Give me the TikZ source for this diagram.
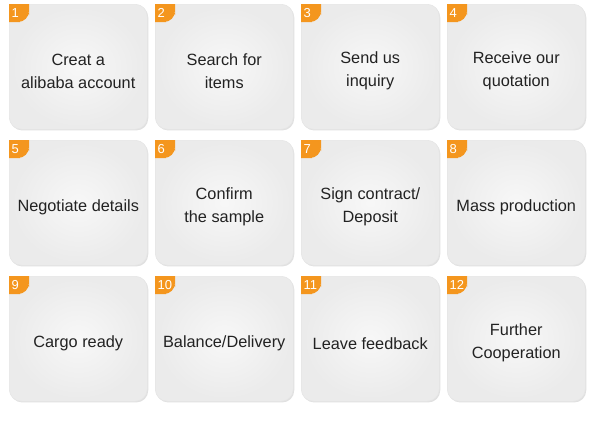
\documentclass[tikz,border=0pt]{standalone}
\usepackage{fontspec}
\setmainfont{Liberation Sans}
\usetikzlibrary{shadows}
\definecolor{tabcol}{RGB}{244,150,30}
\definecolor{txtcol}{RGB}{34,34,34}

\tikzset{
  stepcard/.style={draw=black!10, line width=0.5pt, rounded corners=12pt,
    minimum width=138pt, minimum height=125pt, anchor=north west,
    shading=radial, inner color=white!97!black, outer color=black!8,
    drop shadow={shadow xshift=1pt, shadow yshift=-1.2pt, fill=black!30, opacity=0.4}},
  steptext/.style={text=txtcol, align=center, font=\fontsize{16.3}{23}\selectfont},
  tabnum/.style={text=white, inner sep=0pt, anchor=west, font=\fontsize{13}{13}\selectfont}
}

\begin{document}
\begin{tikzpicture}[x=1pt, y=-1pt]
    \useasboundingbox (0,0) rectangle (600,426);
    % the twelve cards, four per row
    \foreach \txt [count=\n] in {{Creat a\\alibaba account}, {Search for\\items}, {Send us\\inquiry}, {Receive our\\quotation},
        {Negotiate details}, {Confirm\\the sample}, {Sign contract/\\Deposit}, {Mass production},
        {Cargo ready}, {Balance/Delivery}, {Leave feedback}, {Further\\Cooperation}} {
        \pgfmathtruncatemacro\col{mod(\n-1,4)}
        \pgfmathtruncatemacro\row{div(\n-1,4)}
        \pgfmathsetmacro\xo{9+146*\col}
        \pgfmathsetmacro\yo{4+136*\row}
        \node[stepcard] (card\n) at (\xo,\yo) {};
        \node[steptext] (text\n) at ([yshift=-4.5pt]card\n.center) {\txt};
        % orange corner tab with its number
        \fill[tabcol] (\xo,\yo) rectangle ++(20,9) (\xo,\yo) rectangle ++(9,18)
            [rounded corners=11pt] (\xo,\yo) rectangle ++(20,18);
        \node[tabnum] (num\n) at ([xshift=2.5pt, yshift=-9pt]card\n.north west) {\n};
    }
\end{tikzpicture}
\end{document}
